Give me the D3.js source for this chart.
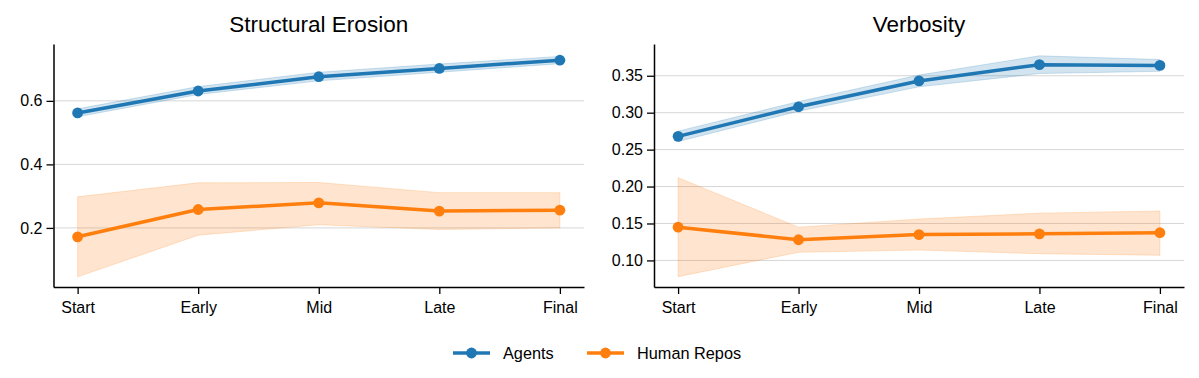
<!DOCTYPE html>
<html>
<head>
<meta charset="utf-8">
<script src="https://cdn.jsdelivr.net/npm/d3@7"></script>
<style>
  html, body { margin: 0; padding: 0; background: #fff; }
  svg { display: block; font-family: "Liberation Sans", Arial, Helvetica, sans-serif; }
</style>
</head>
<body>
<svg id="chart" width="1199" height="378"></svg>
<script>
// ---- data ----
const stages = ["Start", "Early", "Mid", "Late", "Final"];
const seriesNames = ["Agents", "Human Repos"];
const panelTitles = ["Structural Erosion", "Verbosity"];

const erosionAgents   = [0.562, 0.631, 0.676, 0.702, 0.728];
const erosionAgentsLo = [0.550, 0.620, 0.663, 0.690, 0.717];
const erosionAgentsHi = [0.575, 0.645, 0.690, 0.716, 0.740];
const erosionHuman    = [0.172, 0.258, 0.279, 0.253, 0.256];
const erosionHumanLo  = [0.046, 0.177, 0.210, 0.195, 0.200];
const erosionHumanHi  = [0.298, 0.342, 0.343, 0.311, 0.311];

const verbAgents   = [0.268, 0.308, 0.343, 0.365, 0.364];
const verbAgentsLo = [0.261, 0.302, 0.335, 0.353, 0.356];
const verbAgentsHi = [0.275, 0.315, 0.351, 0.377, 0.372];
const verbHuman    = [0.145, 0.128, 0.135, 0.136, 0.1375];
const verbHumanLo  = [0.078, 0.111, 0.114, 0.109, 0.107];
const verbHumanHi  = [0.212, 0.145, 0.156, 0.164, 0.167];

const erosionTicks = [0.2, 0.4, 0.6];
const verbTicks = [0.10, 0.15, 0.20, 0.25, 0.30, 0.35];
const erosionDomain = [0.014, 0.779];
const verbDomain = [0.064, 0.393];

// ---- layout ----
const colors = ["#1f77b4", "#ff7f0e"];
const svg = d3.select("#chart");
const plotTop = 44, plotBottom = 287;

const panels = [
  { title: panelTitles[0], left: 53.5, right: 584, domain: erosionDomain, ticks: erosionTicks, fmt: d3.format(".1f"),
    series: [
      { mean: erosionAgents, lo: erosionAgentsLo, hi: erosionAgentsHi },
      { mean: erosionHuman, lo: erosionHumanLo, hi: erosionHumanHi }
    ] },
  { title: panelTitles[1], left: 654, right: 1184, domain: verbDomain, ticks: verbTicks, fmt: d3.format(".2f"),
    series: [
      { mean: verbAgents, lo: verbAgentsLo, hi: verbAgentsHi },
      { mean: verbHuman, lo: verbHumanLo, hi: verbHumanHi }
    ] }
];

panels.forEach(p => {
  const x = d3.scalePoint().domain(stages).range([p.left, p.right]).padding(0.2);
  const y = d3.scaleLinear().domain(p.domain).range([plotBottom, plotTop]);
  const g = svg.append("g");

  // gridlines
  g.append("g").selectAll("line").data(p.ticks).join("line")
    .attr("x1", p.left).attr("x2", p.right)
    .attr("y1", d => y(d)).attr("y2", d => y(d))
    .attr("stroke", "#d6d6d6").attr("stroke-width", 1);

  // bands, lines, markers
  p.series.forEach((s, i) => {
    const pts = stages.map((st, k) => ({ st, m: s.mean[k], lo: s.lo[k], hi: s.hi[k] }));
    const area = d3.area().x(d => x(d.st)).y0(d => y(d.lo)).y1(d => y(d.hi));
    g.append("path").datum(pts).attr("d", area)
      .attr("fill", colors[i]).attr("fill-opacity", 0.2)
      .attr("stroke", colors[i]).attr("stroke-opacity", 0.2).attr("stroke-width", 1);
  });
  p.series.forEach((s, i) => {
    const pts = stages.map((st, k) => ({ st, m: s.mean[k] }));
    const line = d3.line().x(d => x(d.st)).y(d => y(d.m));
    g.append("path").datum(pts).attr("d", line)
      .attr("fill", "none").attr("stroke", colors[i]).attr("stroke-width", 3.5)
      .attr("stroke-linejoin", "round");
    g.append("g").selectAll("circle").data(pts).join("circle")
      .attr("cx", d => x(d.st)).attr("cy", d => y(d.m)).attr("r", 5.4)
      .attr("fill", colors[i]);
  });

  // axes
  const xAxis = g.append("g").attr("transform", `translate(0,${plotBottom})`)
    .call(d3.axisBottom(x).tickSize(7).tickPadding(7.5).tickSizeOuter(0));
  const yAxis = g.append("g").attr("transform", `translate(${p.left},0)`)
    .call(d3.axisLeft(y).tickValues(p.ticks).tickFormat(p.fmt).tickSize(7).tickPadding(4).tickSizeOuter(0));
  [xAxis, yAxis].forEach(a => {
    a.select(".domain").attr("stroke", "#000").attr("stroke-width", 1.5);
    a.selectAll(".tick line").attr("stroke", "#000").attr("stroke-width", 1.3);
    a.selectAll(".tick text").attr("fill", "#000").attr("font-size", 16)
      .attr("font-family", "'Liberation Sans', Arial, Helvetica, sans-serif");
  });

  g.append("text").attr("x", (p.left + p.right) / 2).attr("y", 32)
    .attr("text-anchor", "middle").attr("font-size", 22.5).attr("fill", "#000")
    .text(p.title);
});

// legend
const legendY = 353;
const legendItems = [
  { name: seriesNames[0], x: 453 },
  { name: seriesNames[1], x: 587 }
];
const lg = svg.append("g");
legendItems.forEach((it, i) => {
  lg.append("line").attr("x1", it.x).attr("x2", it.x + 37).attr("y1", legendY).attr("y2", legendY)
    .attr("stroke", colors[i]).attr("stroke-width", 3.5);
  lg.append("circle").attr("cx", it.x + 18.5).attr("cy", legendY).attr("r", 5.4).attr("fill", colors[i]);
  lg.append("text").attr("x", it.x + 50).attr("y", legendY).attr("dy", "0.36em")
    .attr("font-size", 16.3).attr("fill", "#000").text(it.name);
});
</script>
</body>
</html>
